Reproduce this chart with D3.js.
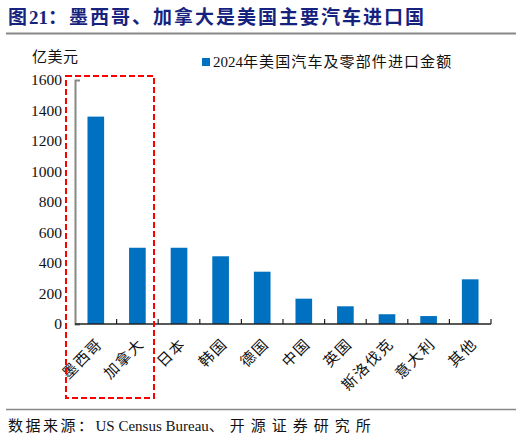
<!DOCTYPE html>
<html>
<head>
<meta charset="utf-8">
<script src="https://d3js.org/d3.v7.min.js"></script>
<style>
  body { margin: 0; background: #fff; }
  svg { display: block; }
</style>
</head>
<body>
<div id="chart"></div>
<script>
// data (亿美元)
var categories = ["墨西哥", "加拿大", "日本", "韩国", "德国", "中国", "英国", "斯洛伐克", "意大利", "其他"];
var values = [1360, 500, 500, 444, 343, 166, 116, 64, 52, 293];
var yTicks = [0, 200, 400, 600, 800, 1000, 1200, 1400, 1600];
var seriesName = "2024年美国汽车及零部件进口金额";

var W = 522, H = 439;
var plot = {left: 75, right: 491, top: 80, bottom: 324};
var FONT = '"Liberation Serif", "Noto Sans CJK SC", serif';

var svg = d3.select("#chart").append("svg")
  .attr("width", W)
  .attr("height", H);

// title + rules
var title = svg.append("text")
  .attr("x", 8).attr("y", 24)
  .style("font-family", FONT)
  .style("font-size", "19px")
  .style("font-weight", "bold")
  .attr("fill", "#16237e");
title.append("tspan").style("letter-spacing", "2px").text("图");
title.append("tspan").text("21");
title.append("tspan").style("letter-spacing", "2px").text("：墨西哥、加拿大是美国主要汽车进口国");

svg.append("line")
  .attr("x1", 6).attr("x2", 516).attr("y1", 33.5).attr("y2", 33.5)
  .attr("stroke", "#888").attr("stroke-width", 2);

svg.append("line")
  .attr("x1", 6).attr("x2", 516).attr("y1", 409.5).attr("y2", 409.5)
  .attr("stroke", "#888").attr("stroke-width", 1.5);

var src = svg.append("text")
  .attr("x", 8).attr("y", 431)
  .style("font-family", FONT)
  .style("font-size", "15px")
  .attr("fill", "#111");
src.append("tspan").style("letter-spacing", "2.5px").text("数据来源：");
src.append("tspan").text("US Census Bureau");
src.append("tspan").style("letter-spacing", "6px").text("、开源证券研究所");

// scales
var x = d3.scaleBand().domain(categories).range([plot.left, plot.right]).paddingInner(0).paddingOuter(0);
var y = d3.scaleLinear().domain([0, 1600]).range([plot.bottom, plot.top]);

// bars
svg.selectAll("rect.bar")
  .data(values)
  .enter().append("rect")
  .attr("class", "bar")
  .attr("x", function(d, i) { return x(categories[i]) + x.bandwidth() * 0.3; })
  .attr("width", x.bandwidth() * 0.4)
  .attr("y", function(d) { return y(d); })
  .attr("height", function(d) { return y(0) - y(d); })
  .attr("fill", "#0070c0");

// y axis
var yAxis = svg.append("g")
  .attr("transform", "translate(" + plot.left + ",0)")
  .call(d3.axisLeft(y).tickValues(yTicks).tickFormat(d3.format("d"))
    .tickSizeInner(0).tickSizeOuter(-5).tickPadding(13));
yAxis.select(".domain").attr("stroke", "#888").attr("stroke-width", 2);
yAxis.selectAll("text")
  .style("font-family", FONT)
  .style("font-size", "15.5px")
  .attr("fill", "#111");

svg.append("text")
  .attr("x", 32).attr("y", 62)
  .style("font-family", FONT)
  .style("font-size", "15px")
  .style("letter-spacing", "0.5px")
  .attr("fill", "#111")
  .text("亿美元");

// x axis line + boundary ticks pointing up
svg.append("line")
  .attr("x1", plot.left).attr("x2", plot.right)
  .attr("y1", y(0)).attr("y2", y(0))
  .attr("stroke", "#222").attr("stroke-width", 1.5);

var bounds = categories.map(function(c) { return x(c); }).concat([plot.right]);
svg.selectAll("line.xtick")
  .data(bounds.slice(1))
  .enter().append("line")
  .attr("class", "xtick")
  .attr("x1", function(d) { return d; }).attr("x2", function(d) { return d; })
  .attr("y1", y(0)).attr("y2", y(0) - 5)
  .attr("stroke", "#222").attr("stroke-width", 1.2);

// category labels, rotated
svg.selectAll("text.cat")
  .data(categories)
  .enter().append("text")
  .attr("class", "cat")
  .attr("text-anchor", "end")
  .attr("transform", function(d) {
    return "translate(" + (x(d) + x.bandwidth() / 2 + 4) + "," + (y(0) + 17) + ") rotate(-45)";
  })
  .attr("dy", "0.35em")
  .style("font-family", FONT)
  .style("font-size", "15px")
  .style("letter-spacing", "1.5px")
  .attr("fill", "#111")
  .text(function(d) { return d; });

// legend
svg.append("rect")
  .attr("x", 202).attr("y", 58).attr("width", 8).attr("height", 8)
  .attr("fill", "#0070c0");
var leg = svg.append("text")
  .attr("x", 213).attr("y", 67)
  .style("font-family", FONT)
  .style("font-size", "15px")
  .attr("fill", "#111");
leg.append("tspan").text(seriesName.slice(0, 4));
leg.append("tspan").style("letter-spacing", "1.1px").text(seriesName.slice(4));

// red dashed highlight box
svg.append("rect")
  .attr("x", 66).attr("y", 76)
  .attr("width", 88).attr("height", 322)
  .attr("fill", "none")
  .attr("stroke", "#ff0000")
  .attr("stroke-width", 2)
  .attr("stroke-dasharray", "6,3");
</script>
</body>
</html>
